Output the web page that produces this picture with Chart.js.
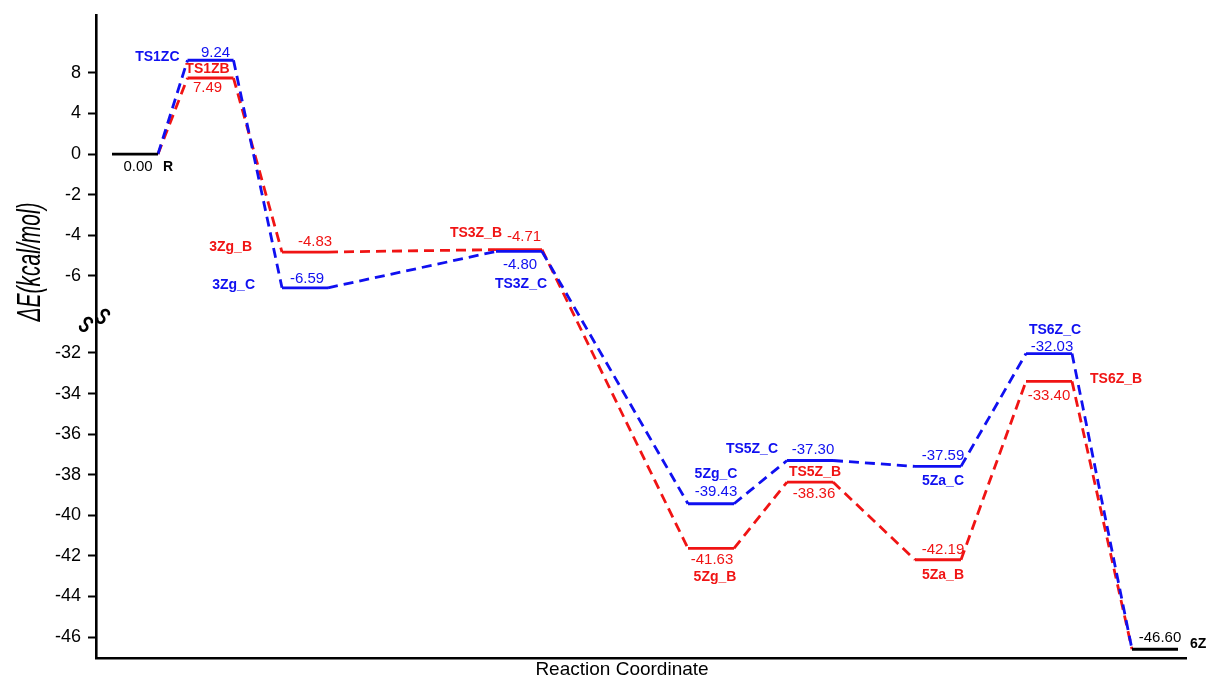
<!DOCTYPE html>
<html>
<head>
<meta charset="utf-8">
<title>Reaction energy profile</title>
<script src="https://cdn.jsdelivr.net/npm/chart.js@4.4.1/dist/chart.umd.min.js"></script>
<style>
  html, body { margin: 0; padding: 0; background: #ffffff; }
  #wrap { width: 1209px; height: 678px; }
</style>
</head>
<body>
<div id="wrap"><canvas id="profile" width="1209" height="678"></canvas></div>
<script>
// Stationary points, in order along the reaction coordinate
const coordinate = [3.9, 11.45, 20.9, 42.3, 61.5, 71.4, 84.2, 95.3, 105.9];

// Relative energies (kcal/mol), pathway B (red) and pathway C (blue)
const energyB = [0.00, 7.49, -4.83, -4.71, -41.63, -38.36, -42.19, -33.40, -46.60];
const energyC = [0.00, 9.24, -6.59, -4.80, -39.43, -37.30, -37.59, -32.03, -46.60];

// Species names
const namesB = ['R', 'TS1ZB', '3Zg_B', 'TS3Z_B', '5Zg_B', 'TS5Z_B', '5Za_B', 'TS6Z_B', '6Z'];
const namesC = ['R', 'TS1ZC', '3Zg_C', 'TS3Z_C', '5Zg_C', 'TS5Z_C', '5Za_C', 'TS6Z_C', '6Z'];

// Energy axis tick values
const yTicks = [8, 4, 0, -2, -4, -6, -32, -34, -36, -38, -40, -42, -44, -46];

// ---- axis with a break: positive part compressed 2:1, gap between -6 and -32 ----
const BREAK_SHIFT = 22.2;
function toAxis(v) {
  if (v >= 0) return v / 2;
  if (v > -20) return v;
  return v + BREAK_SHIFT;
}
function fromAxis(u) {
  if (u >= 0) return u * 2;
  if (u > -8) return u;
  return u - BREAK_SHIFT;
}

const HALF = 2.3;            // half length of a level bar (x units)
const BLUE = '#1010f0';
const RED = '#f01414';
const BLACK = '#000000';
const DASH = [10, 6];

// level bars joined by dashed connectors
function pathFor(energies, from, to) {
  const pts = [];
  for (let i = from; i <= to; i++) {
    const y = toAxis(energies[i]);
    if (i > from) pts.push({ x: coordinate[i] - HALF, y: y, level: i });
    if (i < to) pts.push({ x: coordinate[i] + HALF, y: y, level: i });
  }
  return pts;
}

const pathB = pathFor(energyB, 0, energyB.length - 1);
const pathC = pathFor(energyC, 0, energyC.length - 1);
const last = coordinate.length - 1;
const endLevels = [
  { x: coordinate[0] - HALF, y: toAxis(energyC[0]), level: 0 },
  { x: coordinate[0] + HALF, y: toAxis(energyC[0]), level: 0 },
  { x: (coordinate[0] + coordinate[last]) / 2, y: null, level: -1 },
  { x: coordinate[last] - HALF, y: toAxis(energyC[last]), level: last },
  { x: coordinate[last] + HALF, y: toAxis(energyC[last]), level: last }
];

function dashed(data) {
  return {
    borderDash: ctx => (data[ctx.p0DataIndex].level === data[ctx.p1DataIndex].level ? [] : DASH)
  };
}

// label placement around each level: [dx px, dy px, align]
const valueLayoutC = [null, [5, -7, 'center'], [2, -9, 'center'], [1, 13, 'center'], [5, -12, 'center'],
  [3, -11, 'center'], [5, -11, 'center'], [3, -7, 'center'], null];
const nameLayoutC = [null, [-31, -3, 'right'], [-50, -3, 'right'], [2, 33, 'center'], [5, -30, 'center'],
  [-32, -11, 'right'], [5, 15, 'center'], [6, -23, 'center'], null];
const valueLayoutB = [null, [-3, 10, 'center'], [10, -10, 'center'], [5, -13, 'center'], [1, 11, 'center'],
  [4, 12, 'center'], [5, -10, 'center'], [0, 15, 'center'], null];
const nameLayoutB = [null, [-3, -9, 'center'], [-53, -5, 'right'], [-17, -16, 'right'], [4, 29, 'center'],
  [5, -10, 'center'], [5, 15, 'center'], [41, -2, 'left'], null];

const FONT = "'Liberation Sans', Arial, Helvetica, sans-serif";

const levelLabels = {
  id: 'levelLabels',
  afterDatasetsDraw(chart) {
    const { ctx, scales: { x, y } } = chart;
    ctx.save();
    ctx.textBaseline = 'middle';
    const put = (text, cx, cy, lay, color, bold) => {
      if (!lay) return;
      ctx.font = (bold ? 'bold 14px ' : '15px ') + FONT;
      ctx.fillStyle = color;
      ctx.textAlign = lay[2];
      ctx.fillText(text, cx + lay[0], cy + lay[1]);
    };
    const series = [
      [energyC, namesC, valueLayoutC, nameLayoutC, BLUE],
      [energyB, namesB, valueLayoutB, nameLayoutB, RED]
    ];
    series.forEach(([en, nm, vl, nl, col]) => {
      en.forEach((v, i) => {
        const cx = x.getPixelForValue(coordinate[i]);
        const cy = y.getPixelForValue(toAxis(v));
        put(v.toFixed(2), cx, cy, vl[i], col, false);
        put(nm[i], cx, cy, nl[i], col, true);
      });
    });
    // reactant and product
    const r0x = x.getPixelForValue(coordinate[0]);
    const r0y = y.getPixelForValue(toAxis(energyC[0]));
    put(energyC[0].toFixed(2), r0x, r0y, [3, 13, 'center'], BLACK, false);
    put(namesC[0], r0x, r0y, [28, 13, 'left'], BLACK, true);
    const pLx = x.getPixelForValue(coordinate[last]);
    const pLy = y.getPixelForValue(toAxis(energyC[last]));
    put(energyC[last].toFixed(2), pLx, pLy, [5, -11, 'center'], BLACK, false);
    put(namesC[last], pLx, pLy, [35, -5, 'left'], BLACK, true);
    ctx.restore();
  }
};

// axis titles and the break mark on the energy axis
const axisDecor = {
  id: 'axisDecor',
  afterDraw(chart) {
    const { ctx, chartArea, scales: { y } } = chart;
    ctx.save();
    // y title
    ctx.translate(31, 262);
    ctx.rotate(-Math.PI / 2);
    ctx.scale(1, 1.55);
    ctx.font = 'italic 21px ' + FONT;
    ctx.fillStyle = BLACK;
    ctx.textAlign = 'center';
    ctx.textBaseline = 'middle';
    ctx.fillText('\u0394E(kcal/mol)', 0, 0);
    ctx.restore();

    ctx.save();
    ctx.font = '19px ' + FONT;
    ctx.fillStyle = BLACK;
    ctx.textAlign = 'center';
    ctx.textBaseline = 'middle';
    ctx.fillText('Reaction Coordinate', 622, 670);
    ctx.restore();

    // break mark: two small slanted S strokes across the axis line
    const ax = chartArea.left;
    const by = y.getPixelForValue(-7.9);
    ctx.save();
    ctx.strokeStyle = BLACK;
    ctx.lineWidth = 2.6;
    ctx.lineCap = 'round';
    const r = 3.6;
    const sCurve = (cx, cy) => {
      ctx.save();
      ctx.translate(cx, cy);
      ctx.rotate(40 * Math.PI / 180);
      ctx.beginPath();
      ctx.arc(0, -r, r, -Math.PI / 6, Math.PI / 2, true);
      ctx.arc(0, r, r, -Math.PI / 2, 5 * Math.PI / 6, false);
      ctx.stroke();
      ctx.restore();
    };
    sCurve(ax - 10, by + 10);
    sCurve(ax + 7, by + 2);
    ctx.restore();
  }
};

new Chart(document.getElementById('profile'), {
  type: 'line',
  data: {
    datasets: [
      { data: endLevels, borderColor: BLACK, borderWidth: 2.8, spanGaps: false },
      { data: pathC, borderColor: BLUE, borderWidth: 2.8, segment: dashed(pathC) },
      { data: pathB, borderColor: RED, borderWidth: 2.8, segment: dashed(pathB) }
    ]
  },
  options: {
    responsive: false,
    animation: false,
    devicePixelRatio: 1,
    layout: { padding: { top: 15, right: 23, bottom: 0, left: 0 } },
    elements: {
      point: { radius: 0, hoverRadius: 0 },
      line: { tension: 0, fill: false }
    },
    plugins: {
      legend: { display: false },
      tooltip: { enabled: false }
    },
    scales: {
      x: {
        type: 'linear',
        min: 0,
        max: 109,
        ticks: { display: false },
        grid: { display: false },
        border: { display: true, color: BLACK, width: 2.6 },
        afterFit(scale) {
          scale.height = 20;
          scale.paddingLeft = 0;
          scale.paddingRight = 0;
        }
      },
      y: {
        type: 'linear',
        min: -24.83,
        max: 6.85,
        afterBuildTicks(scale) {
          scale.ticks = yTicks.map(v => ({ value: toAxis(v) }));
        },
        ticks: {
          color: BLACK,
          padding: 7,
          font: { family: FONT, size: 18 },
          callback: v => String(Math.round(fromAxis(v)))
        },
        grid: {
          drawOnChartArea: false,
          drawTicks: true,
          tickLength: 8,
          tickWidth: 2,
          tickColor: BLACK
        },
        border: { display: true, color: BLACK, width: 2.6 },
        afterFit(scale) {
          scale.width = 96;
          scale.paddingTop = 0;
          scale.paddingBottom = 0;
        }
      }
    }
  },
  plugins: [levelLabels, axisDecor]
});
</script>
</body>
</html>
